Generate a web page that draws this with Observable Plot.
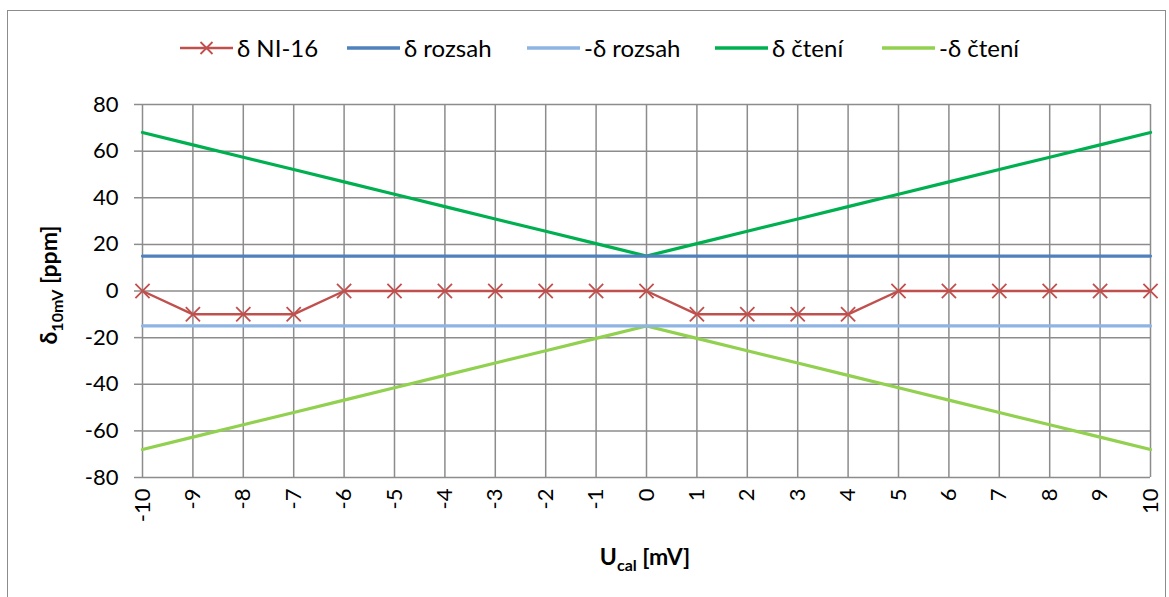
<!DOCTYPE html>
<html><head><meta charset="utf-8">
<script src="https://cdn.jsdelivr.net/npm/d3@7"></script>
<script src="https://cdn.jsdelivr.net/npm/@observablehq/plot@0.6"></script>
<style>
body{margin:0;background:#fff;font-family:Lato,"Open Sans",sans-serif;}
#wrap{position:relative;width:1169px;height:597px;overflow:hidden;}
#frame{position:absolute;left:7px;top:10px;width:1159px;height:600px;border:1.5px solid #8c8c8c;box-sizing:border-box;pointer-events:none;}
#legend{position:absolute;top:33px;left:0;width:1169px;height:30px;font-size:24px;white-space:nowrap;}
#legend .it{position:absolute;top:0;display:flex;align-items:center;}
#legend svg{margin-right:4px;}
#chart{position:absolute;left:0;top:0;}
</style></head>
<body>
<div id="wrap"><div id="chart"></div><div id="legend"></div><div id="frame"></div></div>
<script>
const xValues = [-10,-9,-8,-7,-6,-5,-4,-3,-2,-1,0,1,2,3,4,5,6,7,8,9,10];
const ni16 = [0,-10,-10,-10,0,0,0,0,0,0,0,-10,-10,-10,-10,0,0,0,0,0,0];
const rozsah = [15,15,15,15,15,15,15,15,15,15,15,15,15,15,15,15,15,15,15,15,15];
const minusRozsah = [-15,-15,-15,-15,-15,-15,-15,-15,-15,-15,-15,-15,-15,-15,-15,-15,-15,-15,-15,-15,-15];
const cteni = [68,62.7,57.4,52.1,46.8,41.5,36.2,30.9,25.6,20.3,15,20.3,25.6,30.9,36.2,41.5,46.8,52.1,57.4,62.7,68];
const minusCteni = [-68,-62.7,-57.4,-52.1,-46.8,-41.5,-36.2,-30.9,-25.6,-20.3,-15,-20.3,-25.6,-30.9,-36.2,-41.5,-46.8,-52.1,-57.4,-62.7,-68];
const seriesNames = ["δ NI-16","δ rozsah","-δ rozsah","δ čtení","-δ čtení"];
const seriesColors = ["#C0504D","#4F81BD","#8EB4E3","#00B050","#92D050"];
const yTicks = [-80,-60,-40,-20,0,20,40,60,80];
const xTicks = xValues;

const seriesValues = [ni16, rozsah, minusRozsah, cteni, minusCteni];
const rows = [];
seriesNames.forEach((s,i)=>xValues.forEach((x,j)=>rows.push({series:s,x,y:seriesValues[i][j]})));
const ni = rows.filter(d=>d.series===seriesNames[0]);

const gridColor = "#8c8c8c";
const fmt = d => String(d);
const lineMarks = [4,3,2,1].map(i=>Plot.line(rows.filter(d=>d.series===seriesNames[i]),{x:"x",y:"y",stroke:seriesColors[i],strokeWidth:3.2}));

const chart = Plot.plot({
  width:1169, height:597,
  marginLeft:142, marginRight:19, marginTop:104, marginBottom:120,
  x:{domain:[-10,10]},
  y:{domain:[-80,80]},
  style:{fontFamily:"Lato, 'Open Sans', sans-serif", fontSize:"22px", color:"#000", background:"transparent"},
  marks:[
    Plot.gridX(xTicks,{stroke:gridColor,strokeOpacity:1,strokeWidth:1.5}),
    Plot.gridY(yTicks,{stroke:gridColor,strokeOpacity:1,strokeWidth:1.5}),
    Plot.axisY(yTicks,{tickSize:8,stroke:gridColor,strokeWidth:1.5,tickPadding:16,label:null,fontSize:22,tickFormat:fmt}),
    Plot.axisX(xTicks,{tickRotate:-90,tickSize:0,tickPadding:11,label:null,fontSize:22,tickFormat:fmt}),
    ...lineMarks,
    Plot.line(ni,{x:"x",y:"y",stroke:seriesColors[0],strokeWidth:2.4}),
    Plot.dot(ni,{x:"x",y:"y",symbol:"times",r:6.5,stroke:seriesColors[0],strokeWidth:1.8})
  ]
});
document.getElementById("chart").appendChild(chart);

const svg = d3.select(chart);
// Y axis title
const yt = svg.append("text")
  .attr("transform","translate(57,285) rotate(-90)")
  .attr("text-anchor","middle")
  .attr("font-weight","bold").attr("font-size",23).attr("fill","#000");
yt.append("tspan").text("δ");
yt.append("tspan").text("10mV").attr("font-size",16).attr("dy",6);
yt.append("tspan").text(" [ppm]").attr("dy",-6);
// X axis title
const xt = svg.append("text")
  .attr("x",645).attr("y",565)
  .attr("text-anchor","middle")
  .attr("font-weight","bold").attr("font-size",23).attr("fill","#000");
xt.append("tspan").text("U");
xt.append("tspan").text("cal").attr("font-size",16).attr("dy",6);
xt.append("tspan").text(" [mV]").attr("dy",-6);

// Legend
const legendLeft = [180,347,527,715,882];
const leg = d3.select("#legend");
seriesNames.forEach((name,i)=>{
  const it = leg.append("div").attr("class","it").style("left",legendLeft[i]+"px");
  const s = it.append("svg").attr("width",53).attr("height",20);
  s.append("line").attr("x1",0).attr("x2",53).attr("y1",10).attr("y2",10)
    .attr("stroke",seriesColors[i]).attr("stroke-width",i===0?2.4:3.5);
  if(i===0){
    s.append("path").attr("d","M20.5,4L32.5,16M32.5,4L20.5,16").attr("stroke",seriesColors[0]).attr("stroke-width",1.8);
  }
  it.append("span").text(name);
});
</script>
</body></html>
